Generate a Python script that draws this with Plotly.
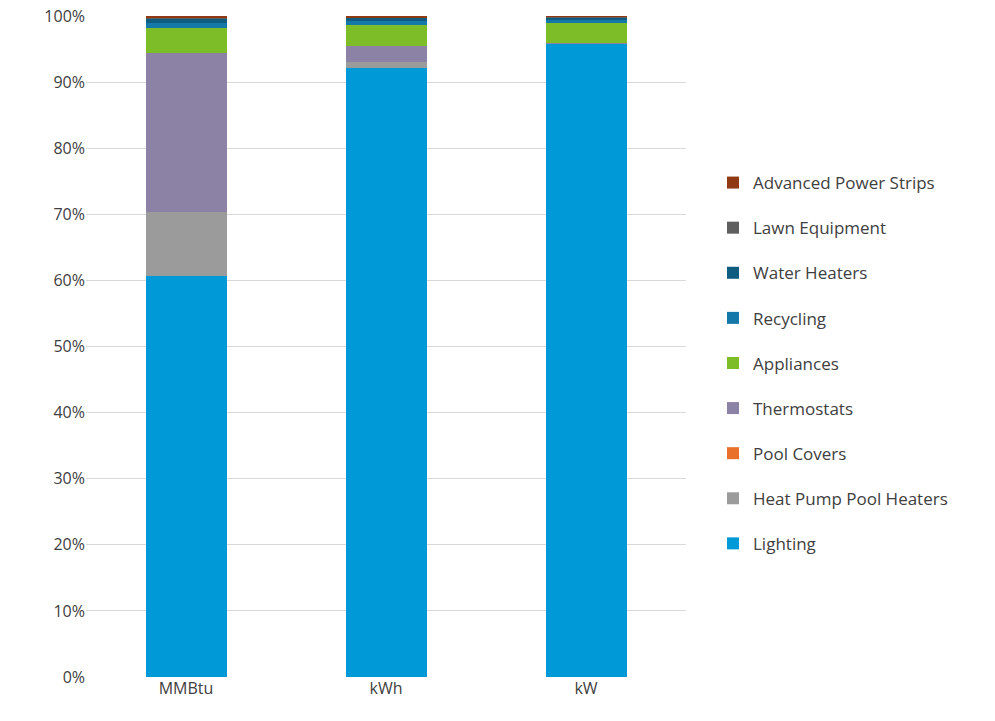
import plotly.graph_objects as go

categories = ["MMBtu", "kWh", "kW"]
series_names = ["Lighting", "Heat Pump Pool Heaters", "Pool Covers", "Thermostats",
                "Appliances", "Recycling", "Water Heaters", "Lawn Equipment",
                "Advanced Power Strips"]
lighting = [60.7, 92.2, 95.8]
heat_pump_pool_heaters = [9.6, 0.8, 0.0]
pool_covers = [0.0, 0.0, 0.0]
thermostats = [24.1, 2.4, 0.1]
appliances = [3.8, 3.2, 3.0]
recycling = [0.8, 0.7, 0.6]
water_heaters = [0.6, 0.4, 0.3]
lawn_equipment = [0.1, 0.05, 0.05]
advanced_power_strips = [0.2, 0.15, 0.15]

values = [lighting, heat_pump_pool_heaters, pool_covers, thermostats, appliances,
          recycling, water_heaters, lawn_equipment, advanced_power_strips]
colors = ["#0099D8", "#9B9B9B", "#E8702A", "#8C82A6", "#7DBD28",
          "#1479A8", "#0E5C80", "#5F5F5F", "#8F3A12"]

fig = go.Figure()
for i, (name, vals, col) in enumerate(zip(series_names, values, colors)):
    fig.add_trace(go.Bar(x=categories, y=[v / 100 for v in vals], name=name,
                         marker=dict(color=col, line=dict(width=0)),
                         legendgroup=name, legendrank=1000 - i))

font_family = "Open Sans, Noto Sans, sans-serif"
fig.update_layout(
    barmode="stack",
    bargap=0.595,
    width=995, height=721,
    paper_bgcolor="white", plot_bgcolor="white",
    margin=dict(l=86, r=309, t=16, b=44, autoexpand=False),
    font=dict(family=font_family, size=16, color="#404040"),
    legend=dict(traceorder="grouped", x=1.045, y=0.475, yanchor="middle", xanchor="left",
                font=dict(size=17, color="#404040"), tracegroupgap=20,
                itemwidth=30),
    showlegend=True,
)
fig.update_yaxes(range=[0, 1], tickformat=".0%", dtick=0.1, showgrid=True,
                 gridcolor="#D9D9D9", gridwidth=1, zeroline=False, showline=False,
                 ticks="", automargin=False, tickfont=dict(size=16, color="#404040"))
fig.update_xaxes(showgrid=False, showline=False, ticks="", automargin=False,
                 tickfont=dict(size=16, color="#404040"))
fig.write_html("out.html")
